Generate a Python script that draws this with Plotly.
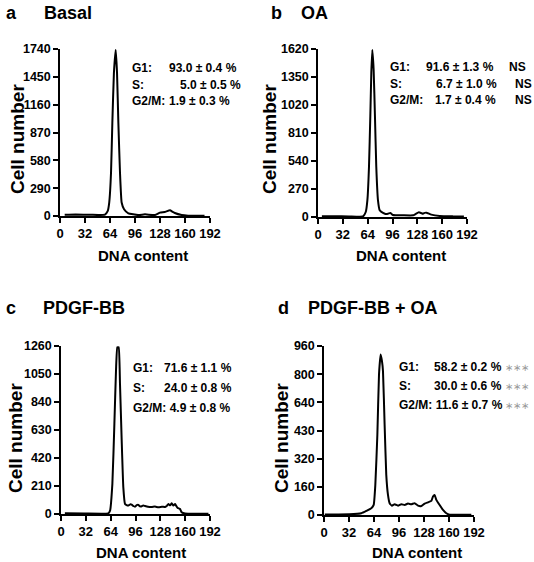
import plotly.graph_objects as go

W, H = 534, 562

# ---------------- data ----------------
x_ticks = [0, 32, 64, 96, 128, 160, 192]

a_title = "Basal"
a_yticks = ["0", "290", "580", "870", "1160", "1450", "1740"]
a_ymax = 1740
a_x = [6, 20, 40, 57.6, 61, 63, 65.3, 67, 69, 71.3, 73, 74.7, 76.8, 78.9, 82, 87.5, 100, 108.8, 121.6, 128, 134, 140.8, 143.8, 147, 155.7, 164, 185]
a_y = [12, 15, 12, 15, 50, 140, 450, 970, 1490, 1730, 1490, 970, 450, 140, 70, 28, 10, 17, 10, 35, 42, 59, 45, 31, 10, 3, 2]
a_rows = [("G1:", "93.0 ± 0.4 %", ""), ("S:", "5.0 ± 0.5 %", ""), ("G2/M:", "1.9 ± 0.3 %", "")]

b_title = "OA"
b_yticks = ["0", "270", "540", "810", "1020", "1350", "1620"]
b_ymax = 1620
b_x = [5, 20, 40, 58, 61.5, 63.6, 65.7, 67.4, 68.7, 70, 71.7, 73.4, 75.1, 77.3, 79.5, 83.8, 87, 90.2, 93.2, 96.7, 109.6, 122.5, 126, 130, 133, 135.3, 137.5, 139.6, 146, 156.8, 174, 188]
b_y = [8, 8, 6, 6, 48, 160, 485, 970, 1390, 1610, 1420, 970, 485, 160, 65, 39, 30, 32, 39, 19, 16, 16, 30, 45, 38, 32, 40, 42, 23, 10, 6, 4]
b_rows = [("G1:", "91.6 ± 1.3 %", "NS"), ("S:", "6.7 ± 1.0 %", "NS"), ("G2/M:", "1.7 ± 0.4 %", "NS")]

c_title = "PDGF-BB"
c_yticks = ["0", "210", "420", "630", "840", "1050", "1260"]
c_ymax = 1260
c_x = [5, 30, 61, 63.2, 66.2, 68.8, 70.9, 72.6, 74.3, 76, 78.2, 80.3, 82.5, 84.5, 86.8, 89, 91.1, 93.2, 95.4, 97.5, 99.7, 102, 104, 106, 108.3, 112, 116.9, 121, 125.5, 130, 134.1, 136.5, 138.4, 140.6, 142.7, 144.8, 147, 148.8, 150.4, 153.4, 155.5, 159.8, 190]
c_y = [5, 4, 5, 25, 226, 678, 1080, 1250, 1250, 979, 552, 200, 75, 66, 63, 72, 70, 60, 55, 66, 68, 57, 58, 64, 60, 55, 53, 56, 50, 54, 53, 62, 75, 65, 80, 63, 75, 58, 45, 38, 13, 3, 2]
c_rows = [("G1:", "71.6 ± 1.1 %", ""), ("S:", "24.0 ± 0.8 %", ""), ("G2/M: 4.9 ± 0.8 %", "", "")]

d_title = "PDGF-BB + OA"
d_yticks = ["0", "160", "320", "430", "640", "800", "960"]
d_ymax = 960
d_x = [1, 32.3, 47.8, 54.2, 60.6, 63.6, 65.7, 68.3, 70.4, 72.5, 74.2, 75.5, 77.6, 79.7, 81.9, 84, 87, 90.5, 94.7, 99, 103.3, 107.5, 111.8, 116, 120.3, 124.6, 128.9, 133.1, 137.4, 139.5, 141.6, 143.8, 148, 152.3, 156.6, 160.8, 188.6]
d_y = [3, 4, 10, 23, 38, 57, 171, 456, 798, 912, 874, 817, 513, 228, 114, 67, 53, 61, 53, 61, 57, 65, 61, 67, 53, 51, 65, 72, 80, 105, 114, 86, 57, 29, 10, 2, 2]
d_rows = [("G1:", "58.2 ± 0.2 %", "∗∗∗"), ("S:", "30.0 ± 0.6 %", "∗∗∗"), ("G2/M: 11.6 ± 0.7 %", "", "∗∗∗")]

# ---------------- layout helpers ----------------
FONT = "Liberation Sans, Arial, sans-serif"


def px(x):
    return x / W


def py(y):
    return 1 - y / H


panels = [
    dict(letter="a", title=a_title, x=a_x, y=a_y, ymax=a_ymax, yt=a_yticks, rows=a_rows,
         dom=(60, 210, 49, 216), let_xy=(5, 13), tit_x=43, tit_y=13,
         ytl=(17, 139), xtl=(143, 255),
         lab_x=131, val_x=[168, 179, 168], ext_x=None, row_y=[68, 85, 101]),
    dict(letter="b", title=b_title, x=b_x, y=b_y, ymax=b_ymax, yt=b_yticks, rows=b_rows,
         dom=(318, 467, 49, 217), let_xy=(270, 13), tit_x=300, tit_y=13,
         ytl=(269, 139), xtl=(401, 255),
         lab_x=389, val_x=[425, 435, 434], ext_x=[508, 514, 514], row_y=[67, 84, 100]),
    dict(letter="c", title=c_title, x=c_x, y=c_y, ymax=c_ymax, yt=c_yticks, rows=c_rows,
         dom=(61, 210, 346, 514), let_xy=(5, 308), tit_x=42, tit_y=308,
         ytl=(15, 438), xtl=(141, 552),
         lab_x=132, val_x=[163, 163, 163], ext_x=None, row_y=[368, 388, 408]),
    dict(letter="d", title=d_title, x=d_x, y=d_y, ymax=d_ymax, yt=d_yticks, rows=d_rows,
         dom=(324, 474, 346, 515), let_xy=(277, 308), tit_x=307, tit_y=308,
         ytl=(281, 438), xtl=(417, 552),
         lab_x=398, val_x=[433, 433, 433], ext_x=[504, 504, 504], row_y=[367, 386, 405]),
]

fig = go.Figure()
annotations = []


def ann(text, x, y, size, xanchor="left", color="black", angle=0, weight="bold"):
    annotations.append(dict(text=text, x=px(x), y=py(y), xref="paper", yref="paper",
                            xanchor=xanchor, yanchor="middle", showarrow=False,
                            textangle=angle, borderpad=0,
                            font=dict(family=FONT, size=size, color=color, weight=weight)))


axis_common = dict(showline=True, linecolor="black", linewidth=1.5, ticks="outside",
                   ticklen=5, tickwidth=1.5, tickcolor="black", showgrid=False,
                   zeroline=False, fixedrange=True, tickangle=0, automargin=False)

for i, p in enumerate(panels, start=1):
    sfx = "" if i == 1 else str(i)
    x0, x1, yt, yb = p["dom"]
    fig.add_trace(go.Scatter(x=p["x"], y=p["y"], mode="lines",
                             line=dict(color="black", width=2, shape="spline", smoothing=0.4),
                             xaxis="x" + sfx, yaxis="y" + sfx, showlegend=False,
                             hoverinfo="skip"))
    ymax = p["ymax"]
    tickvals = [ymax * k / (len(p["yt"]) - 1) for k in range(len(p["yt"]))]
    fig.layout["xaxis" + sfx] = dict(axis_common, domain=[px(x0), px(x1)], range=[0, 192],
                                     anchor="y" + sfx, tickvals=x_ticks,
                                     ticktext=[str(t) for t in x_ticks],
                                     tickfont=dict(family=FONT, size=13, color="black", weight="bold"))
    fig.layout["yaxis" + sfx] = dict(axis_common, domain=[py(yb), py(yt)], range=[0, ymax],
                                     anchor="x" + sfx, tickvals=tickvals, ticktext=p["yt"],
                                     tickfont=dict(family=FONT, size=12.5, color="black", weight="bold"))

    ann(p["letter"], p["let_xy"][0], p["let_xy"][1], 18)
    ann(p["title"], p["tit_x"], p["tit_y"], 18)
    ann("Cell number", p["ytl"][0], p["ytl"][1], 19, xanchor="center", angle=-90)
    ann("DNA content", p["xtl"][0], p["xtl"][1], 15, xanchor="center")
    for r, (lab, val, ext) in enumerate(p["rows"]):
        ann(lab, p["lab_x"], p["row_y"][r], 12)
        if val:
            ann(val, p["val_x"][r], p["row_y"][r], 12)
        if ext:
            if ext == "NS":
                ann(ext, p["ext_x"][r], p["row_y"][r], 12)
            else:
                ann(ext, p["ext_x"][r], p["row_y"][r], 10, color="#9a9a9a", weight="normal")

fig.update_layout(width=W, height=H, margin=dict(l=0, r=0, t=0, b=0),
                  paper_bgcolor="white", plot_bgcolor="white",
                  annotations=annotations, font=dict(family=FONT, color="black"))

fig.write_html("out.html", config={"displayModeBar": False},
               post_script="document.body.style.margin='0';")
